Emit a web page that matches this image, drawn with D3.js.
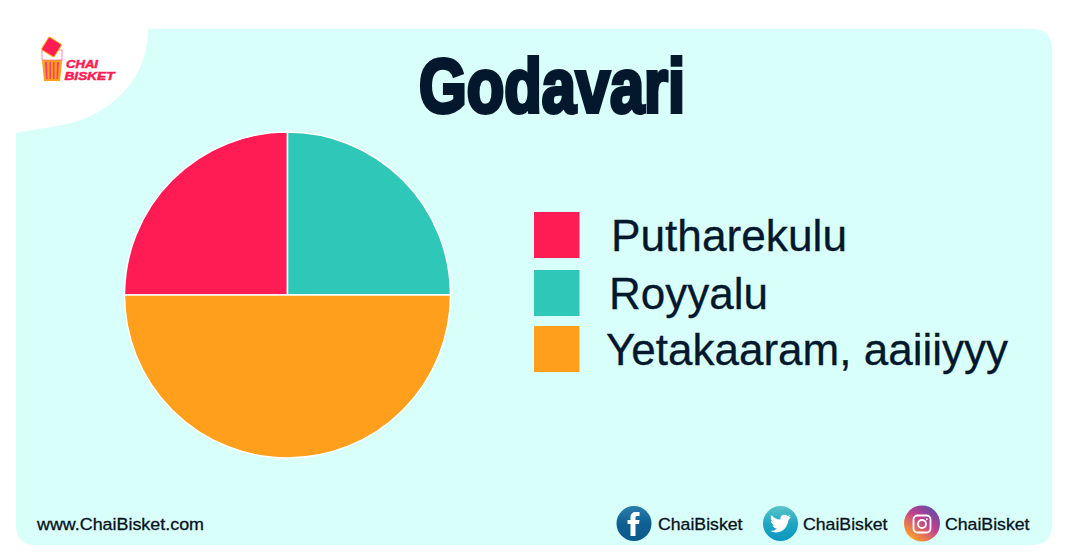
<!DOCTYPE html>
<html><head><meta charset="utf-8">
<script src="https://cdn.jsdelivr.net/npm/d3@7"></script>
<style>html,body{margin:0;padding:0;background:#fff;overflow:hidden}svg{display:block;font-family:"Liberation Sans",Arial,sans-serif}</style>
</head><body><svg id="c" width="1066" height="559"></svg>
<script>
const title = "Godavari";
const categories = ["Putharekulu","Royyalu","Yetakaaram, aaiiiyyy"];
const values = [25,25,50];
const colors = ["#ff1b54","#2fc7b8","#ff9f1c"];
const order = ["Royyalu","Yetakaaram, aaiiiyyy","Putharekulu"];
const website = "www.ChaiBisket.com";
const socialHandle = "ChaiBisket";

const svg = d3.select("#c");
const defs = svg.append("defs");
function grad(id, stops, x1=0,y1=0,x2=0,y2=1){
  const g = defs.append("linearGradient").attr("id",id).attr("x1",x1).attr("y1",y1).attr("x2",x2).attr("y2",y2);
  stops.forEach((s,i)=>g.append("stop").attr("offset",i/(stops.length-1)).attr("stop-color",s));
}
grad("fb",["#2a7fae","#0f5f92","#0a5a8c"]);
grad("tw",["#5cc4c8","#1fa6c4","#0b96c0"]);
grad("ig",["#4f4fa8","#c2408f","#ff9f2a"],0.9,0,0.2,0.9);

// panel
svg.append("path").attr("fill","#d8fff9")
  .attr("d","M148,29 H1032 Q1052,29 1052,49 V525 Q1052,545 1032,545 H36 Q16,545 16,525 V133 L62,125 C110,116 148,80 148,29 Z");

// title
svg.append("text").attr("x",552).attr("y",111.5).attr("text-anchor","middle")
  .attr("font-size",76).attr("font-weight",700).attr("fill","#03182c")
  .attr("stroke","#03182c").attr("stroke-width",4).attr("stroke-linejoin","miter")
  .attr("textLength",266).attr("lengthAdjust","spacingAndGlyphs").text(title);

// pie
const color = d3.scaleOrdinal().domain(categories).range(colors);
const byName = new Map(categories.map((c,i)=>[c,values[i]]));
const pie = d3.pie().sort((a,b)=>order.indexOf(a)-order.indexOf(b)).value(d=>byName.get(d));
const arc = d3.arc().innerRadius(0).outerRadius(163);
svg.append("g").attr("transform","translate(287.5,295)")
  .selectAll("path").data(pie(categories)).join("path")
  .attr("d",arc).attr("fill",d=>color(d.data)).attr("stroke","#fff").attr("stroke-width",1.5);

// legend
const legendY = d3.scaleOrdinal().domain(categories).range([212,270,326]);
const legendX = d3.scaleOrdinal().domain(categories).range([611,609,606]);
const legendW = d3.scaleOrdinal().domain(categories).range([236,159,402]);
const lg = svg.append("g").selectAll("g").data(categories).join("g");
lg.append("rect").attr("x",534).attr("y",d=>legendY(d)).attr("width",45.5).attr("height",46).attr("fill",d=>color(d));
lg.append("text").attr("x",d=>legendX(d)).attr("y",d=>legendY(d)+39)
  .attr("font-size",44.5).attr("fill","#03182c").attr("stroke","#03182c").attr("stroke-width",0.3)
  .attr("textLength",d=>legendW(d)).attr("lengthAdjust","spacingAndGlyphs").text(d=>d);

// footer
svg.append("text").attr("x",37).attr("y",530).attr("font-size",17).attr("fill","#05111c").attr("stroke","#05111c").attr("stroke-width",0.3)
  .attr("textLength",167).attr("lengthAdjust","spacingAndGlyphs").text(website);
const socials = [
  {cx:634,cy:523.5,r:17.5,fill:"url(#fb)",tx:658},
  {cx:780.5,cy:523.5,r:17.5,fill:"url(#tw)",tx:803},
  {cx:922,cy:523.5,r:18,fill:"url(#ig)",tx:945}
];
const sg = svg.append("g").selectAll("g").data(socials).join("g");
sg.append("circle").attr("cx",d=>d.cx).attr("cy",d=>d.cy).attr("r",d=>d.r).attr("fill",d=>d.fill);
sg.append("text").attr("x",d=>d.tx).attr("y",530).attr("font-size",17).attr("fill","#05111c").attr("stroke","#05111c").attr("stroke-width",0.3)
  .attr("textLength",84.5).attr("lengthAdjust","spacingAndGlyphs").text(socialHandle);
// facebook f
svg.append("path").attr("fill","#fff").attr("transform","translate(634,524)")
  .attr("d","M-3.5,12 V0 H-6.5 V-4 H-3.5 V-6.5 C-3.5,-10 -1.5,-12 2,-12 H5.5 V-8 H3 C1.8,-8 1.5,-7.4 1.5,-6 V-4 H5.5 L5,0 H1.5 V12 Z");
// twitter bird
svg.append("path").attr("fill","#fff").attr("transform","translate(780.5,524)")
  .attr("d","M-10,7 C-5,10 6,9 8,-4 L10.5,-7 L8,-6.5 L10,-9 L7,-8 C4,-11 -1,-8.5 0,-4.5 C-4,-4.5 -7,-6.5 -9,-9 C-10.5,-6.5 -9.5,-3.5 -7.5,-2.5 L-9.5,-3 C-9.5,-0.5 -7.5,1 -5.5,1.5 L-8,1.5 C-7,3.5 -5.5,4.5 -3.5,4.5 C-5.5,6.2 -7.5,7 -10,7 Z");
// instagram glyph
const ig = svg.append("g").attr("transform","translate(922,524)").attr("fill","none").attr("stroke","#fff");
ig.append("rect").attr("x",-8.5).attr("y",-8.5).attr("width",17).attr("height",17).attr("rx",4).attr("stroke-width",1.8);
ig.append("circle").attr("r",4).attr("stroke-width",1.8);
ig.append("circle").attr("cx",4.8).attr("cy",-4.8).attr("r",1).attr("fill","#fff").attr("stroke","none");

// logo
const logo = svg.append("g");
logo.append("path").attr("fill","#ff9f1c").attr("d","M42,60 L62,60 L60,81 L44,81 Z");
logo.append("path").attr("fill","#ff3b68").attr("d","M45,62 H47 L47.5,79 H46 Z M49.5,62 H51 V79 H49.5 Z M53,62 H54.5 V79 H53 Z M57,62 H59 L58,79 H56.5 Z");
logo.append("rect").attr("x",42).attr("y",50).attr("width",20).attr("height",10).attr("fill","#fff").attr("stroke","#ff6f8e").attr("stroke-width",0.8);
logo.append("rect").attr("x",44).attr("y",39.5).attr("width",15).attr("height",15).attr("rx",1.5).attr("transform","rotate(32 51.5 47)").attr("fill","#ff1b54").attr("stroke","#ffb01c").attr("stroke-width",1);
const logoWords = [{t:"CHAI",x:66,y:67.5,l:32},{t:"BISKET",x:64.5,y:80,l:50}];
logo.selectAll("text").data(logoWords).join("text").attr("x",d=>d.x).attr("y",d=>d.y)
  .attr("font-size",11).attr("font-weight",700).attr("font-style","italic").attr("fill","#ff1b54")
  .attr("stroke","#ff1b54").attr("stroke-width",0.5)
  .attr("textLength",d=>d.l).attr("lengthAdjust","spacingAndGlyphs").text(d=>d.t);
</script></body></html>
